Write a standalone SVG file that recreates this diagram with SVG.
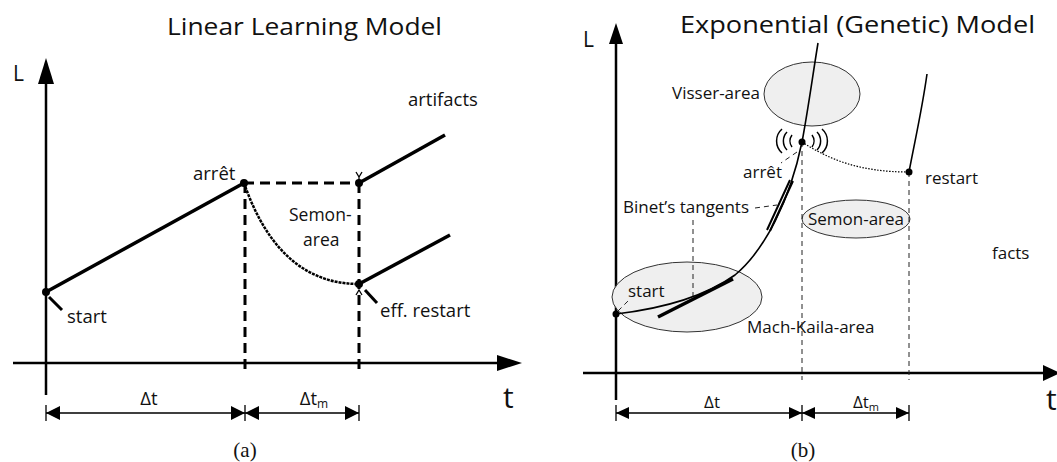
<svg xmlns="http://www.w3.org/2000/svg" width="1057" height="462" viewBox="0 0 1057 462">
<style>
text{font-family:"Open Sans","DejaVu Sans",sans-serif;fill:#111}
.lbl{font-size:18.5px}
.lbr{font-size:17px}
.ttl{font-size:23px}
.ax{stroke:#000;stroke-width:2.5;fill:none}
.thick{stroke:#000;stroke-width:3.5;fill:none;stroke-linecap:butt}
.dash{stroke:#000;stroke-width:3;fill:none;stroke-dasharray:10,6}
.tdash{stroke:#222;stroke-width:1;fill:none;stroke-dasharray:5,4}
.dim{stroke:#000;stroke-width:1.3;fill:none}
.ah{fill:#000;stroke:none}
.pt{fill:#000}
.area{fill:#efefef;stroke:#333;stroke-width:1}
.cap{font-family:"Liberation Serif",serif;font-size:21px}
</style>
<rect width="1057" height="462" fill="#fff"/>

<!-- Panel (a) -->
<g id="a-title"><text class="ttl" x="167" y="35" textLength="275" lengthAdjust="spacingAndGlyphs">Linear Learning Model</text></g>
<g id="a-axes">
  <path class="ax" d="M46,395 V80"/>
  <polygon class="ah" points="46,58 38,84 54,84"/>
  <path class="ax" d="M13,363 H500"/>
  <polygon class="ah" points="522,363 497,355 497,371"/>
  <text x="13" y="81" style="font-size:21px">L</text>
  <text x="503" y="408" style="font-size:30px">t</text>
</g>
<g id="a-connectors">
  <path class="thick" d="M46,292 L244,183"/>
  <path class="dash" d="M244,183 H359"/>
  <path class="dash" d="M245,183 V370"/>
  <path class="dash" d="M359,183 V370"/>
  <path class="thick" d="M359,183 L445,135"/>
  <path class="thick" d="M359,284 L450,235"/>
  <path d="M244,183 C262,235 295,284 359,284" stroke="#000" stroke-width="2.5" fill="none" stroke-dasharray="3,1"/>
  <path d="M49,297 L62,310" stroke="#000" stroke-width="3"/>
  <path d="M365,290 L377,303" stroke="#000" stroke-width="3"/>
  <path d="M356,172 L359,177 L362,172 M359,177 V181" stroke="#000" stroke-width="1.3" fill="none"/>
  <path d="M356,295 L359,290 L362,295" stroke="#000" stroke-width="1.3" fill="none"/>
</g>
<g id="a-points">
  <circle class="pt" cx="46" cy="292" r="4"/>
  <circle class="pt" cx="244" cy="183" r="4"/>
  <circle class="pt" cx="359" cy="183" r="4"/>
  <circle class="pt" cx="359" cy="284" r="4"/>
</g>
<g id="a-labels">
  <text class="lbl" x="408" y="106">artifacts</text>
  <text class="lbl" x="193" y="180">arrêt</text>
  <text x="289" y="221" style="font-size:17.5px">Semon-</text>
  <text x="303" y="246" style="font-size:17.5px">area</text>
  <text class="lbl" x="67" y="323">start</text>
  <text class="lbl" x="380" y="317">eff. restart</text>
</g>
<g id="a-dimensions">
  <path class="dim" d="M46,405 V421 M245,405 V421 M359,405 V421 M46,413 H359"/>
  <polygon class="ah" points="46,413 60,406 60,420"/>
  <polygon class="ah" points="245,413 231,406 231,420"/>
  <polygon class="ah" points="245,413 259,406 259,420"/>
  <polygon class="ah" points="359,413 345,406 345,420"/>
  <text class="lbl" x="149" y="405" text-anchor="middle">Δt</text>
  <text class="lbl" x="314" y="405" text-anchor="middle">Δt<tspan style="font-size:12px" dy="3">m</tspan></text>
</g>
<g id="a-caption"><text class="cap" x="245" y="457" text-anchor="middle">(a)</text></g>

<!-- Panel (b) -->
<g id="b-title"><text class="ttl" x="680" y="33" textLength="355" lengthAdjust="spacingAndGlyphs" style="font-size:24px">Exponential (Genetic) Model</text></g>
<g id="b-axes">
  <path class="ax" d="M616,400 V40"/>
  <polygon class="ah" points="616,23 609,44 623,44"/>
  <path class="ax" d="M583,373 H1045"/>
  <polygon class="ah" points="1060,373 1043,365 1043,381"/>
  <text x="583" y="47" style="font-size:21px">L</text>
  <text x="1046" y="410" style="font-size:30px">t</text>
</g>
<g id="b-mach-kaila"><ellipse class="area" cx="687" cy="297" rx="75" ry="35"/><text class="lbr" x="747" y="333">Mach-Kaila-area</text></g>
<g id="b-visser"><ellipse class="area" cx="812" cy="94" rx="48" ry="32"/><text class="lbr" x="760" y="99" text-anchor="end">Visser-area</text></g>
<g id="b-semon"><ellipse class="area" cx="856" cy="219" rx="54" ry="19"/><text class="lbr" x="856" y="225" text-anchor="middle">Semon-area</text></g>
<g id="b-connectors">
  <path class="tdash" d="M693,220 V297"/>
  <path class="tdash" d="M802,142 V380"/>
  <path class="tdash" d="M909,172 V380"/>
  <path d="M616,314 C650,310 700,300 735,275 C765,250 790,200 802,142 C808,110 812,80 818,43" stroke="#000" stroke-width="1.6" fill="none"/>
  <path d="M909,172 C915,140 922,110 927,74" stroke="#000" stroke-width="1.6" fill="none"/>
  <path d="M802,142 C830,160 860,172 909,172" stroke="#000" stroke-width="1.2" fill="none" stroke-dasharray="1.5,1.5"/>
  <path d="M658,317 L733,279" stroke="#000" stroke-width="3.5"/>
  <path d="M767,230 L790,180 M770,231 L793,181" stroke="#000" stroke-width="2"/>
  <path class="tdash" d="M618,311 L630,299"/>
  <path class="tdash" d="M797,152 L781,163"/>
  <path class="tdash" d="M755,208 L777,205"/>
  <path d="M782,129 A16,16 0 0 0 782,153 M787,132 A13,13 0 0 0 787,150 M792,135 A10,10 0 0 0 792,147 M812,135 A10,10 0 0 1 812,147 M817,132 A13,13 0 0 1 817,150 M822,129 A16,16 0 0 1 822,153" stroke="#000" stroke-width="1.5" fill="none"/>
</g>
<g id="b-points">
  <circle class="pt" cx="616" cy="314" r="3.5"/>
  <circle class="pt" cx="802" cy="142" r="3.5"/>
  <circle class="pt" cx="909" cy="172" r="3.5"/>
</g>
<g id="b-labels">
  <text class="lbr" x="743" y="178">arrêt</text>
  <text class="lbr" x="925" y="184">restart</text>
  <text class="lbr" x="623" y="213">Binet’s tangents</text>
  <text class="lbr" x="992" y="259">facts</text>
  <text class="lbr" x="628" y="297">start</text>
</g>
<g id="b-dimensions">
  <path class="dim" d="M616,405 V421 M802,405 V421 M909,405 V421 M616,413 H909"/>
  <polygon class="ah" points="616,413 629,407 629,419"/>
  <polygon class="ah" points="802,413 789,407 789,419"/>
  <polygon class="ah" points="802,413 815,407 815,419"/>
  <polygon class="ah" points="909,413 896,407 896,419"/>
  <text class="lbr" x="712" y="408" text-anchor="middle">Δt</text>
  <text class="lbr" x="866" y="408" text-anchor="middle">Δt<tspan style="font-size:11px" dy="3">m</tspan></text>
</g>
<g id="b-caption"><text class="cap" x="803" y="457" text-anchor="middle">(b)</text></g>
</svg>
